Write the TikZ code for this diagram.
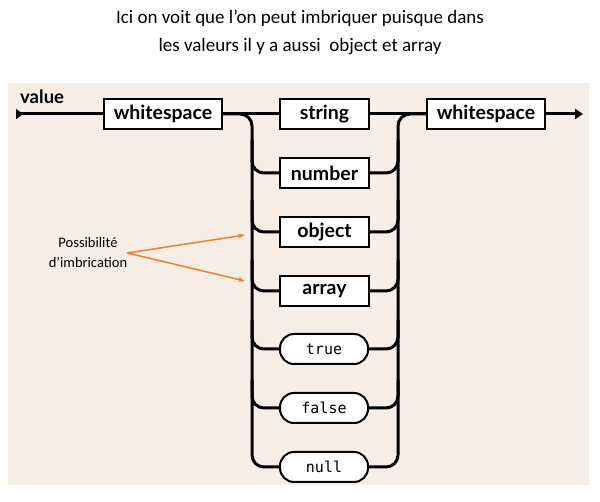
\documentclass[tikz,border=0pt]{standalone}
\usepackage{fontspec}
\setmainfont{Carlito}
\newfontfamily\railfont{Lato}
\newfontfamily\kwfont{DejaVu Sans Mono}
\usetikzlibrary{arrows.meta}

\definecolor{panel}{HTML}{F6EEE5}
\definecolor{hint}{HTML}{ED7D31}

\begin{document}
\begin{tikzpicture}[
  x=1pt, y=-1pt,
  rule/.style      = {draw, line width=2pt, fill=white, inner sep=0pt,
                      minimum height=30pt, font=\railfont\bfseries\fontsize{19.5}{19.5}\selectfont},
  wide/.style      = {minimum width=118pt},
  narrow/.style    = {minimum width=89pt},
  lit/.style       = {draw, line width=2pt, fill=white, inner sep=0pt, rounded corners=14pt,
                      minimum height=30pt, minimum width=88pt,
                      font=\kwfont\fontsize{15}{15}\selectfont},
  track/.style     = {line width=3pt, rounded corners=12pt},
  hintarrow/.style = {hint, line width=1.5pt, -{Stealth[length=7pt,width=5pt]}},
  title/.style     = {align=center, font=\fontsize{19}{28}\selectfont},
  note/.style      = {align=center, font=\fontsize{14.5}{20}\selectfont, inner sep=0pt},
]
  \useasboundingbox (0,0) rectangle (600,502);
  \fill[panel] (8,83) rectangle (589,485);

  \node[title] (title) at (300,32) {Ici on voit que l’on peut imbriquer puisque dans\\
    les valeurs il y a aussi\ \ object et array};

  \node[anchor=base west, inner sep=0pt, font=\railfont\bfseries\fontsize{18.5}{18.5}\selectfont]
    (valuelbl) at (20,104) {value};

  \node[rule,wide] (ws1) at (163,114) {whitespace};
  \node[rule,wide] (ws2) at (486,114) {whitespace};

  \node[rule,narrow] (string) at (324.5,114) {string};
  \node[rule,narrow] (number) at (324.5,173) {number};
  \node[rule,narrow] (object) at (324.5,232) {object};
  \node[rule,narrow] (array)  at (324.5,291) {array};
  \node[lit] (true)  at (324,349) {true};
  \node[lit] (false) at (324,408) {false};
  \node[lit] (null)  at (324,467) {null};

  \coordinate (start) at (16,114);
  \coordinate (stop) at (583,114);
  \coordinate (lbus) at (252,290);
  \coordinate (rbus) at (398,290);

  % entry and exit of the diagram
  \draw[line width=3pt, {Triangle[reversed,length=7pt,width=10pt]}-] (start) -- (ws1);
  \draw[line width=3pt, -{Triangle[length=8pt,width=10pt]}] (ws2) -- (stop);

  % the straight way through
  \draw[track] (ws1) -- (string);
  \draw[track] (string) -- (ws2);

  % the two buses, from top to bottom
  \draw[track] (ws1.east) -| (lbus) |- (null.west);
  \draw[track] (null.east) -| (rbus) |- (ws2.west);

  % branches off the left bus
  \draw[track] (252,140) |- (number.west);
  \draw[track] (252,200) |- (object.west);
  \draw[track] (252,260) |- (array.west);
  \draw[track] (252,320) |- (true.west);
  \draw[track] (252,380) |- (false.west);

  % and back into the right bus
  \draw[track] (number.east) -| (398,140);
  \draw[track] (object.east) -| (398,200);
  \draw[track] (array.east)  -| (398,260);
  \draw[track] (true.east)   -| (398,320);
  \draw[track] (false.east)  -| (398,380);

  % nesting hint
  \node[note] (imbr) at (88,253) {Possibilité\\d’imbrication};
  \coordinate (toobject) at (245,235);
  \coordinate (toarray) at (245,281);
  \draw[hintarrow] (imbr.east) -- (toobject);
  \draw[hintarrow] (imbr.east) -- (toarray);
\end{tikzpicture}
\end{document}
